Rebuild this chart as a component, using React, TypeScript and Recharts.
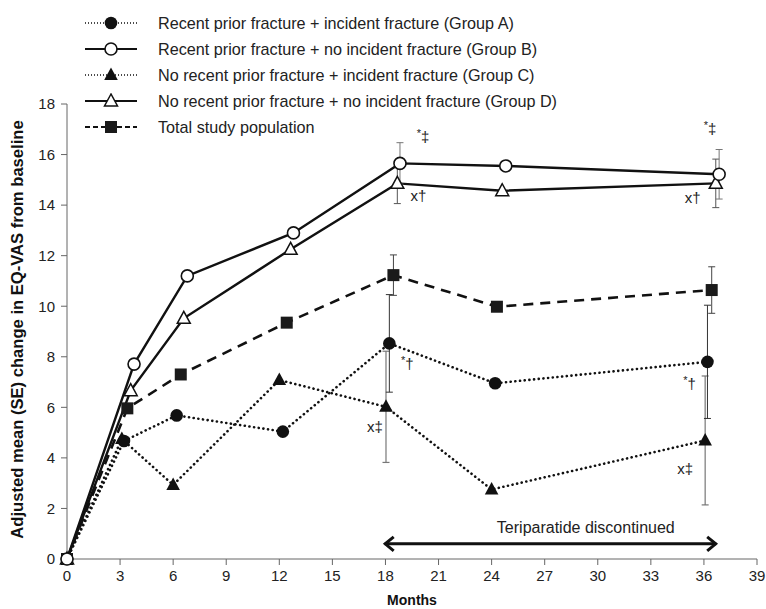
import React from 'react';
import { ComposedChart, Line, XAxis, YAxis, ErrorBar, LabelList, ReferenceLine } from 'recharts';

const FONT = '"Liberation Sans", Arial, sans-serif';

const monthTicks = [0, 3, 6, 9, 12, 15, 18, 21, 24, 27, 30, 33, 36, 39];
const vasTicks = [0, 2, 4, 6, 8, 10, 12, 14, 16, 18];

// Group A: recent prior fracture + incident fracture
const groupAMonths = [0, 3.22, 6.2, 12.2, 18.22, 24.2, 36.2];
const groupAValues = [0, 4.67, 5.68, 5.04, 8.53, 6.95, 7.8];
const groupAErrors = [null, null, null, null, 1.93, null, 2.24];
const groupANotes = ['', '', '', '', '*†', '', '*†'];

// Group B: recent prior fracture + no incident fracture
const groupBMonths = [0, 3.79, 6.8, 12.8, 18.82, 24.8, 36.86];
const groupBValues = [0, 7.71, 11.2, 12.9, 15.65, 15.55, 15.22];
const groupBErrors = [null, null, null, null, 0.82, null, 0.98];
const groupBNotes = ['', '', '', '', '*‡', '', '*‡'];

// Group C: no recent prior fracture + incident fracture
const groupCMonths = [0, 3.1, 6.0, 12.0, 18.03, 24.0, 36.07];
const groupCValues = [0, 4.75, 2.93, 7.08, 6.02, 2.75, 4.69];
const groupCErrors = [null, null, null, null, 2.2, null, 2.55];
const groupCNotes = ['', '', '', '', 'x‡', '', 'x‡'];

// Group D: no recent prior fracture + no incident fracture
const groupDMonths = [0, 3.6, 6.6, 12.64, 18.67, 24.6, 36.67];
const groupDValues = [0, 6.66, 9.52, 12.25, 14.86, 14.57, 14.86];
const groupDErrors = [null, null, null, null, 0.8, null, 0.96];
const groupDNotes = ['', '', '', '', 'x†', '', 'x†'];

// Total study population
const totalMonths = [0, 3.41, 6.43, 12.42, 18.45, 24.3, 36.44];
const totalValues = [0, 5.96, 7.3, 9.35, 11.23, 9.98, 10.64];
const totalErrors = [null, null, null, null, 0.8, null, 0.92];

const legendLabels = [
    'Recent prior fracture + incident fracture (Group A)',
    'Recent prior fracture + no incident fracture (Group B)',
    'No recent prior fracture + incident fracture (Group C)',
    'No recent prior fracture + no incident fracture (Group D)',
    'Total study population'
];

const toRows = (months: number[], values: number[], errors: (number | null)[], notes?: string[]) =>
    months.map((m, i) => ({ month: m, value: values[i], se: errors[i], note: notes ? notes[i] : '' }));

const rowsA = toRows(groupAMonths, groupAValues, groupAErrors, groupANotes);
const rowsB = toRows(groupBMonths, groupBValues, groupBErrors, groupBNotes);
const rowsC = toRows(groupCMonths, groupCValues, groupCErrors, groupCNotes);
const rowsD = toRows(groupDMonths, groupDValues, groupDErrors, groupDNotes);
const rowsTotal = toRows(totalMonths, totalValues, totalErrors);

type MarkerKind = 'filledCircle' | 'openCircle' | 'filledTriangle' | 'openTriangle' | 'filledSquare';

function Marker({ kind, cx, cy }: { kind: MarkerKind; cx: number; cy: number }) {
    switch (kind) {
        case 'filledCircle':
            return <circle cx={cx} cy={cy} r={6.3} fill="#111" />;
        case 'openCircle':
            return <circle cx={cx} cy={cy} r={6} fill="#fff" stroke="#111" strokeWidth={1.6} />;
        case 'filledTriangle':
            return <path d={`M${cx},${cy - 7.5} L${cx - 6.8},${cy + 5} L${cx + 6.8},${cy + 5} Z`} fill="#111" />;
        case 'openTriangle':
            return (
                <path
                    d={`M${cx},${cy - 7} L${cx - 6.5},${cy + 5} L${cx + 6.5},${cy + 5} Z`}
                    fill="#fff"
                    stroke="#111"
                    strokeWidth={1.5}
                />
            );
        default:
            return <rect x={cx - 6} y={cy - 6} width={12} height={12} fill="#1a1a1a" />;
    }
}

const dotOf = (kind: MarkerKind) => (props: any) => (
    <g key={`${kind}-${props.index}`}>
        {props.cx != null && props.cy != null ? <Marker kind={kind} cx={props.cx} cy={props.cy} /> : null}
    </g>
);

// note placement: first offset for the 18-month note, second for the 36-month note
const noteOf = (early: [number, number], late: [number, number]) => (props: any) => {
    const { x, y, value, index } = props;
    if (!value) return null;
    const [dx, dy] = index >= 6 ? late : early;
    const mark = String(value).slice(0, 1);
    const dagger = String(value).slice(1);
    return (
        <text x={x + dx} y={y + dy} textAnchor="middle" dominantBaseline="middle" fontFamily={FONT} fill="#222">
            {mark === '*' ? (
                <tspan fontSize={11} dy={-4} fill="#222">*</tspan>
            ) : (
                <tspan fontSize={15} fill="#222">{mark}</tspan>
            )}
            <tspan fontSize={15} dy={mark === '*' ? 4 : 0} fill="#222">{dagger}</tspan>
        </text>
    );
};

const ArrowShape = (props: any) => {
    const { x1, y1, x2, y2 } = props;
    if (x1 == null) return null;
    return (
        <g>
            <line x1={x1 + 1} y1={y1} x2={x2 - 1} y2={y2} stroke="#111" strokeWidth={3} />
            <polyline points={`${x1 + 10},${y1 - 7} ${x1 + 1.5},${y1} ${x1 + 10},${y1 + 7}`} fill="none" stroke="#111" strokeWidth={3} />
            <polyline points={`${x2 - 10},${y2 - 7} ${x2 - 1.5},${y2} ${x2 - 10},${y2 + 7}`} fill="none" stroke="#111" strokeWidth={3} />
            <text
                x={x1 + (x2 - x1) * 0.606}
                y={y1 - 15}
                textAnchor="middle"
                dominantBaseline="middle"
                fontFamily={FONT}
                fontSize={16}
                fill="#222"
            >
                Teriparatide discontinued
            </text>
        </g>
    );
};

const legendKinds: MarkerKind[] = ['filledCircle', 'openCircle', 'filledTriangle', 'openTriangle', 'filledSquare'];
const legendDash = ['1 2', '', '1 2', '', '5 3'];

function ChartLegend() {
    return (
        <div style={{ position: 'absolute', left: 85, top: 10, fontFamily: FONT, fontSize: 16.2, color: '#222' }}>
            {legendLabels.map((label, i) => (
                <div key={label} style={{ display: 'flex', alignItems: 'center', height: 26 }}>
                    <svg width={52} height={16} style={{ marginRight: 21 }}>
                        <line
                            x1={0}
                            y1={8}
                            x2={52}
                            y2={8}
                            stroke="#111"
                            strokeWidth={legendDash[i] === '1 2' ? 1.3 : 2}
                            strokeDasharray={legendDash[i] || undefined}
                        />
                        <Marker kind={legendKinds[i]} cx={26} cy={8} />
                    </svg>
                    <span>{label}</span>
                </div>
            ))}
        </div>
    );
}

export default function App() {
    return (
        <div style={{ position: 'absolute', left: 0, top: 0, width: 766, height: 609, background: '#fff' }}>
            <ComposedChart width={766} height={609} margin={{ top: 104, right: 9, left: 10, bottom: 20 }}>
                <XAxis
                    dataKey="month"
                    type="number"
                    domain={[0, 39]}
                    ticks={monthTicks}
                    stroke="#666"
                    tickSize={6}
                    tickMargin={5}
                    height={30}
                    tick={{ fill: '#222', fontSize: 15, fontFamily: FONT }}
                    label={{
                        content: ({ viewBox }: any) => (
                            <text
                                x={viewBox.x + viewBox.width / 2}
                                y={viewBox.y + 42}
                                textAnchor="middle"
                                dominantBaseline="middle"
                                fontFamily={FONT}
                                fontWeight="bold"
                                fontSize={14}
                                fill="#111"
                            >
                                Months
                            </text>
                        )
                    }}
                />
                <YAxis
                    type="number"
                    domain={[0, 18]}
                    ticks={vasTicks}
                    stroke="#666"
                    tickSize={6}
                    tickMargin={6}
                    width={57}
                    tick={{ fill: '#222', fontSize: 15, fontFamily: FONT }}
                    label={{
                        content: ({ viewBox }: any) => {
                            const cx = viewBox.x + 9;
                            const cy = viewBox.y + viewBox.height / 2 - 2;
                            return (
                                <text
                                    x={cx}
                                    y={cy}
                                    transform={`rotate(-90, ${cx}, ${cy})`}
                                    textAnchor="middle"
                                    dominantBaseline="middle"
                                    fontFamily={FONT}
                                    fontWeight="bold"
                                    fontSize={16.6}
                                    fill="#111"
                                >
                                    Adjusted mean (SE) change in EQ-VAS from baseline
                                </text>
                            );
                        }
                    }}
                />
                <ReferenceLine
                    segment={[{ x: 17.9, y: 0.6 }, { x: 36.75, y: 0.6 }]}
                    shape={ArrowShape}
                    ifOverflow="visible"
                />
                <Line
                    data={rowsTotal}
                    dataKey="value"
                    type="linear"
                    stroke="#111"
                    strokeWidth={2.6}
                    strokeDasharray="10 7"
                    dot={dotOf('filledSquare')}
                    activeDot={false}
                    isAnimationActive={false}
                >
                    <ErrorBar dataKey="se" direction="y" width={3.5} stroke="#444" strokeWidth={1} />
                </Line>
                <Line
                    data={rowsC}
                    dataKey="value"
                    type="linear"
                    stroke="#111"
                    strokeWidth={2.6}
                    strokeDasharray="0.1 4.6"
                    strokeLinecap="round"
                    dot={dotOf('filledTriangle')}
                    activeDot={false}
                    isAnimationActive={false}
                >
                    <ErrorBar dataKey="se" direction="y" width={3.5} stroke="#777" strokeWidth={1.2} />
                    <LabelList dataKey="note" content={noteOf([-11, 21], [-20, 30])} />
                </Line>
                <Line
                    data={rowsA}
                    dataKey="value"
                    type="linear"
                    stroke="#111"
                    strokeWidth={2.6}
                    strokeDasharray="0.1 4.6"
                    strokeLinecap="round"
                    dot={dotOf('filledCircle')}
                    activeDot={false}
                    isAnimationActive={false}
                >
                    <ErrorBar dataKey="se" direction="y" width={3.5} stroke="#333" strokeWidth={1} />
                    <LabelList dataKey="note" content={noteOf([18, 22], [-18, 23])} />
                </Line>
                <Line
                    data={rowsD}
                    dataKey="value"
                    type="linear"
                    stroke="#111"
                    strokeWidth={2.4}
                    dot={dotOf('openTriangle')}
                    activeDot={false}
                    isAnimationActive={false}
                >
                    <ErrorBar dataKey="se" direction="y" width={3.5} stroke="#555" strokeWidth={1} />
                    <LabelList dataKey="note" content={noteOf([21, 14], [-23, 16])} />
                </Line>
                <Line
                    data={rowsB}
                    dataKey="value"
                    type="linear"
                    stroke="#111"
                    strokeWidth={2.4}
                    dot={dotOf('openCircle')}
                    activeDot={false}
                    isAnimationActive={false}
                >
                    <ErrorBar dataKey="se" direction="y" width={3.5} stroke="#777" strokeWidth={1} />
                    <LabelList dataKey="note" content={noteOf([23, -25], [-9, -44])} />
                </Line>
            </ComposedChart>
            <ChartLegend />
        </div>
    );
}
